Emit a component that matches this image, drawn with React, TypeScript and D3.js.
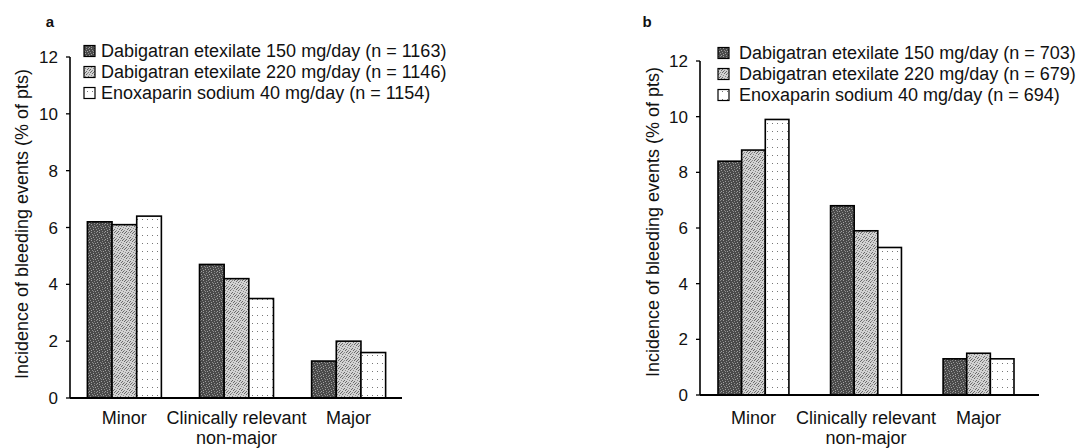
import React from 'react';
import * as d3 from 'd3';

// ---------- data ----------
const categories = ['Minor', 'Clinically relevant', 'Major'];
const categoryLines: string[][] = [['Minor'], ['Clinically relevant', 'non-major'], ['Major']];
const seriesKeys = ['dab150', 'dab220', 'enox'];
const yTicks = [0, 2, 4, 6, 8, 10, 12];

const legendA = [
  'Dabigatran etexilate 150 mg/day (n = 1163)',
  'Dabigatran etexilate 220 mg/day (n = 1146)',
  'Enoxaparin sodium 40 mg/day (n = 1154)',
];
const legendB = [
  'Dabigatran etexilate 150 mg/day (n = 703)',
  'Dabigatran etexilate 220 mg/day (n = 679)',
  'Enoxaparin sodium 40 mg/day (n = 694)',
];

const a_dab150 = [6.2, 4.7, 1.3];
const a_dab220 = [6.1, 4.2, 2.0];
const a_enox = [6.4, 3.5, 1.6];

const b_dab150 = [8.4, 6.8, 1.3];
const b_dab220 = [8.8, 5.9, 1.5];
const b_enox = [9.9, 5.3, 1.3];

const yTitle = 'Incidence of bleeding events (% of pts)';
const FONT = "'Liberation Sans', Arial, Helvetica, sans-serif";
const patternIds = ['patDark', 'patMid', 'patLight'];

// stipple texture pixel positions (style only)
const darkSpecks: [number, number][] = [
  [0, 0], [3, 0], [6, 1], [1, 2], [4, 2], [7, 3], [2, 4], [5, 5], [0, 5], [3, 6], [6, 7], [1, 7], [5, 3],
];
const midSpecks: [number, number][] = [
  [0, 0], [2, 0], [5, 0], [1, 2], [4, 1], [6, 2], [3, 3], [0, 4], [2, 5], [5, 4], [7, 5], [1, 6], [4, 6], [6, 7], [3, 7], [7, 1],
];

type PanelProps = {
  label: string;
  labelX: number;
  axisX: number;
  axisEnd: number;
  y0: number;
  y12: number;
  bandEnd: number;
  padInner: number;
  padOuter: number;
  titleX: number;
  titleY: number;
  legendSqX: number;
  legendTextX: number;
  legendY: number;
  legend: string[];
  series: number[][];
};

function Panel(p: PanelProps) {
  const x = d3.scaleBand<string>().domain(categories).range([p.axisX, p.bandEnd]).paddingInner(p.padInner).paddingOuter(p.padOuter);
  const xs = d3.scaleBand<string>().domain(seriesKeys).range([0, x.bandwidth()]).padding(0);
  const y = d3.scaleLinear().domain([0, 12]).range([p.y0, p.y12]);
  const rowGap = 21;
  return (
    <g fontFamily={FONT} fill="#111">
      <text x={p.labelX} y={27} fontSize={15} fontWeight="bold" textAnchor="middle">{p.label}</text>
      {categories.map((c, ci) => (
        <g key={c}>
          {seriesKeys.map((s, si) => {
            const v = p.series[si][ci];
            const bx = (x(c) as number) + (xs(s) as number);
            return (
              <rect key={s} x={bx} y={y(v)} width={xs.bandwidth()} height={y(0) - y(v)}
                fill={`url(#${patternIds[si]})`} stroke="#000" strokeWidth={1.6} />
            );
          })}
        </g>
      ))}
      <line x1={p.axisX} x2={p.axisX} y1={y(12)} y2={y(0)} stroke="#000" strokeWidth={1.6} />
      <line x1={p.axisX} x2={p.axisEnd} y1={y(0)} y2={y(0)} stroke="#000" strokeWidth={1.8} />
      {yTicks.map((t) => (
        <g key={t}>
          <line x1={p.axisX - 4} x2={p.axisX} y1={y(t)} y2={y(t)} stroke="#000" strokeWidth={1.3} />
          <text x={p.axisX - 12} y={y(t)} dy="0.36em" fontSize={17} textAnchor="end">{t}</text>
        </g>
      ))}
      {categories.map((c, ci) => (
        <text key={c} x={(x(c) as number) + x.bandwidth() / 2} y={424} fontSize={18} textAnchor="middle">
          {categoryLines[ci].map((ln, li) => (
            <tspan key={li} x={(x(c) as number) + x.bandwidth() / 2} dy={li === 0 ? 0 : 19.5}>{ln}</tspan>
          ))}
        </text>
      ))}
      <text transform={`translate(${p.titleX},${p.titleY}) rotate(-90)`} fontSize={18} textAnchor="middle">{yTitle}</text>
      {p.legend.map((t, i) => (
        <g key={t}>
          <rect x={p.legendSqX} y={p.legendY + i * rowGap - 5.5} width={11} height={11}
            fill={`url(#${patternIds[i]})`} stroke="#000" strokeWidth={1.2} />
          <text x={p.legendTextX} y={p.legendY + i * rowGap} dy="0.36em" fontSize={18}>{t}</text>
        </g>
      ))}
    </g>
  );
}

export default function App() {
  return (
    <svg width={1082} height={448} style={{ position: 'absolute', left: 0, top: 0, background: '#fff' }}>
      <defs>
        <pattern id="patDark" width={8} height={8} patternUnits="userSpaceOnUse">
          <rect width={8} height={8} fill="#4a4a4a" shapeRendering="crispEdges" />
          {darkSpecks.map(([px, py], i) => (
            <rect key={i} x={px} y={py} width={1} height={1} fill={i % 2 ? '#a0a0a0' : '#8a8a8a'} shapeRendering="crispEdges" />
          ))}
        </pattern>
        <pattern id="patMid" width={8} height={8} patternUnits="userSpaceOnUse">
          <rect width={8} height={8} fill="#d2d2d2" shapeRendering="crispEdges" />
          {midSpecks.map(([px, py], i) => (
            <rect key={i} x={px} y={py} width={1} height={1} fill={i % 3 ? '#6a6a6a' : '#8c8c8c'} shapeRendering="crispEdges" />
          ))}
        </pattern>
        <pattern id="patLight" width={5} height={8} patternUnits="userSpaceOnUse">
          <rect width={5} height={8} fill="#fff" shapeRendering="crispEdges" />
          <rect x={2} y={3} width={1} height={1} fill="#777" shapeRendering="crispEdges" />
        </pattern>
      </defs>
      <Panel label="a" labelX={50} axisX={70} axisEnd={402} y0={398} y12={57} bandEnd={403}
        padInner={0.34} padOuter={0.155} titleX={28} titleY={224}
        legendSqX={84} legendTextX={101} legendY={51} legend={legendA}
        series={[a_dab150, a_dab220, a_enox]} />
      <Panel label="b" labelX={647} axisX={700} axisEnd={1039} y0={395} y12={61} bandEnd={1032}
        padInner={0.37} padOuter={0.16} titleX={659} titleY={222}
        legendSqX={718} legendTextX={739} legendY={53} legend={legendB}
        series={[b_dab150, b_dab220, b_enox]} />
    </svg>
  );
}
